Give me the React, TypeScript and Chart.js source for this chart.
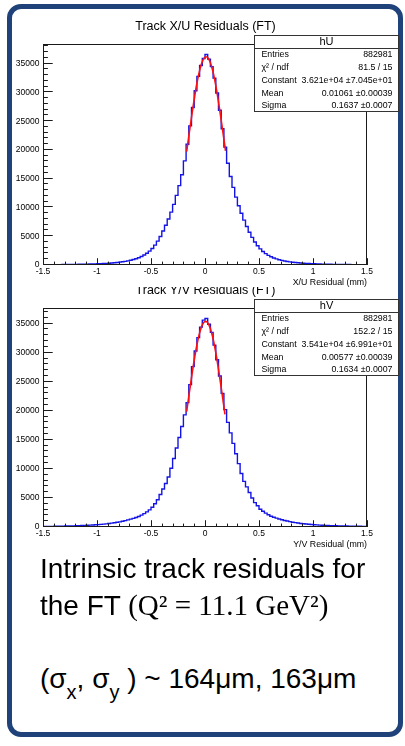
import React, { useEffect, useRef } from "react";
import { Chart, registerables } from "chart.js";

Chart.register(...registerables);

const FONT = '"Liberation Sans", Arial, Helvetica, sans-serif';

// ---------- data ----------
const X_MIN = -1.5;
const X_MAX = 1.5;
const BIN_WIDTH = 0.025;
const X_TICK_VALUES = [-1.5, -1, -0.5, 0, 0.5, 1, 1.5];
const X_TICK_LABELS = ["-1.5", "-1", "-0.5", "0", "0.5", "1", "1.5"];
const Y_TICK_VALUES = [0, 5000, 10000, 15000, 20000, 25000, 30000, 35000];
const Y_MAJOR = 5000;
const Y_MINOR = 1000;
const X_MINOR_STEP = 0.1;

// hU : X/U residual histogram (120 bins, -1.5 .. 1.5 mm)
const HU_COUNTS = [
  51, 54, 57, 60, 64, 68, 73, 78, 83, 89,
  95, 102, 110, 118, 128, 138, 149, 162, 177, 193,
  211, 232, 256, 283, 315, 350, 392, 440, 495, 560,
  635, 720, 825, 945, 1090, 1260, 1470, 1730, 2040, 2420,
  2880, 3450, 4150, 4950, 5900, 6900, 8000, 9200, 10550, 12100,
  13800, 15700, 18100, 21000, 24200, 27400, 30300, 32800, 34700, 35900,
  36600, 35800, 34500, 32500, 29900, 26900, 23700, 20500, 17700, 15400,
  13500, 11800, 10300, 9000, 7800, 6700, 5700, 4800, 4000, 3350,
  2800, 2350, 1980, 1680, 1430, 1230, 1060, 920, 800, 700,
  615, 540, 480, 425, 380, 340, 305, 275, 250, 225,
  205, 188, 172, 158, 146, 135, 125, 116, 108, 100,
  93, 87, 81, 76, 71, 67, 63, 59, 55, 52,
];

// hV : Y/V residual histogram
const HV_COUNTS = [
  96, 102, 108, 115, 122, 130, 139, 149, 160, 171,
  184, 198, 213, 230, 248, 268, 290, 315, 343, 375,
  410, 450, 495, 545, 600, 660, 730, 805, 890, 990,
  1100, 1220, 1350, 1490, 1640, 1820, 2040, 2300, 2600, 2950,
  3400, 4000, 4700, 5600, 6550, 7500, 8600, 10100, 11800, 13600,
  15400, 17300, 19300, 21400, 24500, 27600, 30300, 32600, 34400, 35600,
  35900, 34900, 33500, 31300, 28800, 26000, 23000, 20200, 18000, 16200,
  14400, 12600, 10900, 9200, 7850, 6900, 5950, 5000, 4200, 3650,
  3050, 2700, 2380, 2100, 1860, 1680, 1520, 1380, 1250, 1130,
  1020, 920, 830, 750, 680, 615, 560, 510, 465, 425,
  390, 358, 330, 305, 282, 262, 243, 226, 210, 196,
  183, 171, 160, 150, 141, 133, 125, 118, 112, 106,
];

// gaussian fit curves (red)
const HU_FIT_X = [-0.17, -0.15, -0.13, -0.11, -0.09, -0.07, -0.05, -0.03, -0.01, 0.01, 0.03, 0.05, 0.07, 0.09, 0.11, 0.13, 0.15, 0.17, 0.19];
const HU_FIT_Y = [19700, 22380, 25040, 27600, 29980, 32080, 33810, 35110, 35920, 36210, 35960, 35170, 33900, 32190, 30120, 27750, 25200, 22540, 19860];
const HV_FIT_X = [-0.17, -0.15, -0.13, -0.11, -0.09, -0.07, -0.05, -0.03, -0.01, 0.01, 0.03, 0.05, 0.07, 0.09, 0.11, 0.13, 0.15, 0.17, 0.185];
const HV_FIT_Y = [19850, 22480, 25070, 27550, 29820, 31800, 33410, 34570, 35250, 35400, 35020, 34140, 32780, 31000, 28890, 26520, 23990, 21370, 19400];

const STAT_LABELS = ["Entries", "\u03c7\u00b2 / ndf", "Constant", "Mean", "Sigma"];
const HU_STAT_VALUES = ["882981", "81.5 / 15", "3.621e+04 \u00b17.045e+01", "0.01061 \u00b10.00039", "0.1637 \u00b10.0007"];
const HV_STAT_VALUES = ["882981", "152.2 / 15", "3.541e+04 \u00b16.991e+01", "0.00577 \u00b10.00039", "0.1634 \u00b10.0007"];

type PadSpec = {
  title: string;
  xTitle: string;
  statName: string;
  statValues: string[];
  counts: number[];
  fitX: number[];
  fitY: number[];
  canvasHeight: number;
  frameTop: number;
  padBottom: number;
  titleBaseline: number;
};

function histPoints(counts: number[]) {
  const pts = counts.map((v, i) => ({ x: X_MIN + i * BIN_WIDTH, y: v }));
  pts.push({ x: X_MAX, y: counts[counts.length - 1] });
  return pts;
}

function rootPad(spec: PadSpec) {
  return {
    id: "rootPad",
    afterDatasetsDraw(chart: any) {
      const { ctx, chartArea: a, scales } = chart;
      const xs = scales.x;
      const ys = scales.y;
      ctx.save();
      ctx.strokeStyle = "#1a1a1a";
      ctx.lineWidth = 1;
      ctx.beginPath();
      // y ticks (inside)
      const nY = Math.floor(ys.max / Y_MINOR + 1e-9);
      for (let i = 0; i <= nY; i++) {
        const v = i * Y_MINOR;
        const py = Math.round(ys.getPixelForValue(v)) - 0.5;
        const len = v % Y_MAJOR === 0 ? 9.7 : 4.9;
        ctx.moveTo(a.left, py);
        ctx.lineTo(a.left + len, py);
      }
      // x ticks (inside)
      const nX = Math.round((X_MAX - X_MIN) / X_MINOR_STEP);
      for (let i = 0; i <= nX; i++) {
        const v = X_MIN + i * X_MINOR_STEP;
        const px = Math.round(xs.getPixelForValue(v)) + 0.5;
        const len = i % 5 === 0 ? 6.8 : 3.4;
        ctx.moveTo(px, a.bottom);
        ctx.lineTo(px, a.bottom - len);
      }
      ctx.stroke();
      // frame
      ctx.strokeRect(a.left + 0.5, a.top + 0.5, a.right - a.left - 1, a.bottom - a.top - 1);
      ctx.restore();
    },
    afterDraw(chart: any) {
      const { ctx, chartArea: a } = chart;
      ctx.save();
      // title
      ctx.fillStyle = "#000";
      ctx.font = `12.5px ${FONT}`;
      ctx.textAlign = "center";
      ctx.textBaseline = "alphabetic";
      ctx.fillText(spec.title, 205.5, spec.titleBaseline);
      // x axis title
      ctx.font = `8.8px ${FONT}`;
      ctx.textAlign = "right";
      ctx.fillText(spec.xTitle, a.right, a.bottom + 19.5);
      // stat box
      const bx = 254;
      const bw = 145;
      const by = a.top - 9;
      const bh = 77;
      ctx.fillStyle = "#fff";
      ctx.fillRect(bx, by, bw, bh);
      ctx.strokeStyle = "#333";
      ctx.lineWidth = 1;
      ctx.strokeRect(bx + 0.5, by + 0.5, bw - 1, bh - 1);
      ctx.beginPath();
      ctx.moveTo(bx, by + 13.5);
      ctx.lineTo(bx + bw, by + 13.5);
      ctx.stroke();
      ctx.fillStyle = "#000";
      ctx.textBaseline = "middle";
      ctx.textAlign = "center";
      ctx.font = `11px ${FONT}`;
      ctx.fillText(spec.statName, bx + bw / 2, by + 7);
      ctx.font = `8.8px ${FONT}`;
      STAT_LABELS.forEach((lab, i) => {
        const y = by + 20 + i * 12.75;
        ctx.textAlign = "left";
        ctx.fillText(lab, bx + 7.5, y);
        ctx.textAlign = "right";
        ctx.fillText(spec.statValues[i], bx + bw - 6.5, y);
      });
      ctx.restore();
    },
  };
}

function makeConfig(spec: PadSpec): any {
  const ymax = Math.max(...spec.counts) * 1.05;
  return {
    type: "line",
    data: {
      datasets: [
        {
          label: "fit",
          data: spec.fitX.map((x, i) => ({ x, y: spec.fitY[i] })),
          borderColor: "#ff1010",
          borderWidth: 1.6,
          pointRadius: 0,
          tension: 0.4,
          cubicInterpolationMode: "monotone",
          fill: false,
        },
        {
          label: "hist",
          data: histPoints(spec.counts),
          borderColor: "#1414e6",
          borderWidth: 1.4,
          pointRadius: 0,
          stepped: "before",
          fill: false,
        },
      ],
    },
    options: {
      responsive: false,
      animation: false,
      events: [],
      layout: { padding: { left: 0, right: 38, top: spec.frameTop, bottom: spec.padBottom } },
      plugins: { legend: { display: false }, title: { display: false }, tooltip: { enabled: false } },
      scales: {
        x: {
          type: "linear",
          min: X_MIN,
          max: X_MAX,
          grid: { display: false, drawTicks: false },
          border: { display: false },
          afterBuildTicks: (s: any) => {
            s.ticks = X_TICK_VALUES.map((v) => ({ value: v }));
          },
          ticks: {
            autoSkip: false,
            maxRotation: 0,
            padding: 2,
            color: "#000",
            font: { family: FONT, size: 8.5 },
            callback: (_v: number, i: number) => X_TICK_LABELS[i],
          },
          afterFit: (s: any) => {
            s.height = 20;
          },
        },
        y: {
          type: "linear",
          min: 0,
          max: ymax,
          grid: { display: false, drawTicks: false },
          border: { display: false },
          afterBuildTicks: (s: any) => {
            s.ticks = Y_TICK_VALUES.map((v) => ({ value: v }));
          },
          ticks: {
            autoSkip: false,
            padding: 3.5,
            color: "#000",
            font: { family: FONT, size: 8.5 },
            callback: (v: number) => String(v),
          },
          afterFit: (s: any) => {
            s.width = 43;
          },
        },
      },
    },
    plugins: [rootPad(spec)],
  };
}

const PAD_U: PadSpec = {
  title: "Track X/U Residuals (FT)",
  xTitle: "X/U Residual (mm)",
  statName: "hU",
  statValues: HU_STAT_VALUES,
  counts: HU_COUNTS,
  fitX: HU_FIT_X,
  fitY: HU_FIT_Y,
  canvasHeight: 287,
  frameTop: 44,
  padBottom: 2,
  titleBaseline: 29.5,
};

const PAD_V: PadSpec = {
  title: "Track Y/V Residuals (FT)",
  xTitle: "Y/V Residual (mm)",
  statName: "hV",
  statValues: HV_STAT_VALUES,
  counts: HV_COUNTS,
  fitX: HV_FIT_X,
  fitY: HV_FIT_Y,
  canvasHeight: 270,
  frameTop: 21,
  padBottom: 10,
  titleBaseline: 7,
};

const subStyle: React.CSSProperties = { fontSize: 20, position: "relative", top: 11, lineHeight: 0 };

export default function App() {
  const c1 = useRef<HTMLCanvasElement>(null);
  const c2 = useRef<HTMLCanvasElement>(null);
  useEffect(() => {
    const ch1 = new Chart(c1.current as HTMLCanvasElement, makeConfig(PAD_U));
    const ch2 = new Chart(c2.current as HTMLCanvasElement, makeConfig(PAD_V));
    return () => {
      ch1.destroy();
      ch2.destroy();
    };
  }, []);

  const lineStyle: React.CSSProperties = {
    position: "absolute",
    left: 40,
    fontFamily: FONT,
    fontSize: 28,
    lineHeight: "28px",
    whiteSpace: "pre",
    color: "#000",
  };

  return (
    <div style={{ position: "absolute", left: 0, top: 0, width: 405, height: 746, background: "#fff", overflow: "hidden" }}>
      <div
        style={{
          position: "absolute",
          left: 7,
          top: 4,
          width: 396,
          height: 733,
          border: "5px solid #1e4279",
          borderRadius: 14,
          boxSizing: "border-box",
        }}
      />
      <canvas ref={c2} width={405} height={270} style={{ position: "absolute", left: 0, top: 287, display: "block" }} />
      <canvas ref={c1} width={405} height={287} style={{ position: "absolute", left: 0, top: 0, display: "block" }} />
      <div style={{ ...lineStyle, top: 554.6 }}>Intrinsic track residuals for</div>
      <div style={{ ...lineStyle, top: 591.3 }}>
        {"the FT "}
        <span style={{ fontFamily: '"Liberation Serif", "Times New Roman", serif', fontSize: 29 }}>(Q² = 11.1 GeV²)</span>
      </div>
      <div style={{ ...lineStyle, top: 664.6 }}>
        {"(\u03c3"}
        <span style={subStyle}>x</span>
        {", \u03c3"}
        <span style={subStyle}>y</span>
        {" ) ~ 164\u03bcm, 163\u03bcm"}
      </div>
    </div>
  );
}
